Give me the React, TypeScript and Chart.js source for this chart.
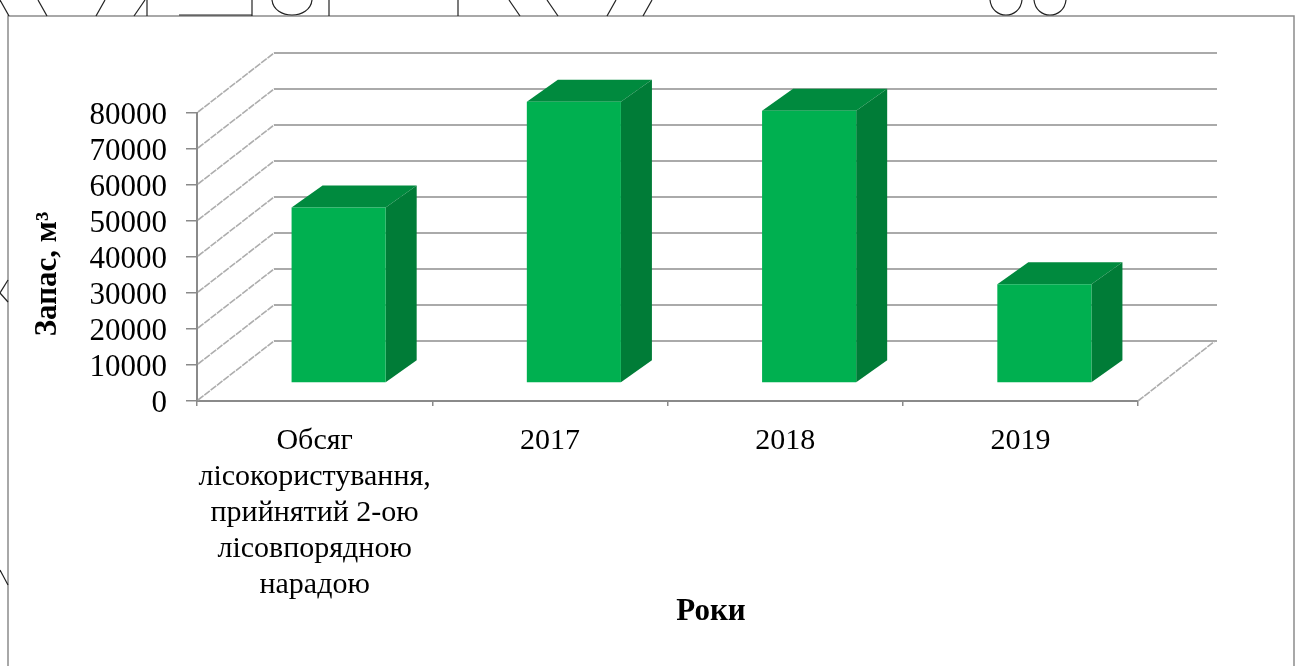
import React, { useEffect, useRef } from "react";
import { Chart, registerables } from "chart.js";

Chart.register(...registerables);

const categories: (string | string[])[] = [
  ["Обсяг", "лісокористування,", "прийнятий 2-ою", "лісовпорядною", "нарадою"],
  "2017",
  "2018",
  "2019",
];
const stockValues = [48750, 78100, 75600, 27400];
const yAxisTitle = "Запас, м³";
const xAxisTitle = "Роки";

const SERIF = '"Liberation Serif", "Times New Roman", serif';
const AXIS_COLOR = "#8a8a8a";
const FRONT = "#00b050";
const TOP = "#008a3e";
const SIDE = "#007c37";

// Perspective settings of the fake 3D look
const WALL_DX = 77;
const WALL_DY = -60;
const BAR_SHIFT_X = 24;
const BAR_SHIFT_Y = -18;
const BAR_DX = 31;
const BAR_DY = -22;

const threeD = {
  id: "threeD",
  beforeDatasetsDraw(chart: any) {
    const { ctx, scales } = chart;
    const { x, y } = scales;
    ctx.save();
    y.ticks.forEach((t: any) => {
      const py = y.getPixelForValue(t.value);
      ctx.strokeStyle = "#adadad";
      ctx.lineWidth = 1.6;
      ctx.setLineDash([7, 1]);
      ctx.beginPath();
      ctx.moveTo(x.left + 1, py - 1);
      ctx.lineTo(x.left + WALL_DX, py + WALL_DY);
      ctx.stroke();
      ctx.setLineDash([]);
      ctx.strokeStyle = "#8e8e8e";
      ctx.lineWidth = 1.6;
      ctx.beginPath();
      ctx.moveTo(x.left + WALL_DX, py + WALL_DY);
      ctx.lineTo(x.right + WALL_DX + 2, py + WALL_DY);
      ctx.stroke();
    });
    const floor = y.getPixelForValue(0);
    ctx.strokeStyle = "#adadad";
    ctx.lineWidth = 1.6;
    ctx.setLineDash([7, 1]);
    ctx.beginPath();
    ctx.moveTo(x.right, floor);
    ctx.lineTo(x.right + WALL_DX, floor + WALL_DY);
    ctx.stroke();
    ctx.restore();
  },
  beforeDatasetDraw(chart: any, args: any) {
    const { ctx } = chart;
    const meta = chart.getDatasetMeta(args.index);
    ctx.save();
    ctx.translate(BAR_SHIFT_X, BAR_SHIFT_Y);
    meta.data.forEach((bar: any) => {
      const l = bar.x - bar.width / 2;
      const r = bar.x + bar.width / 2;
      const t = bar.y;
      const b = bar.base;
      ctx.fillStyle = TOP;
      ctx.beginPath();
      ctx.moveTo(l, t);
      ctx.lineTo(l + BAR_DX, t + BAR_DY);
      ctx.lineTo(r + BAR_DX, t + BAR_DY);
      ctx.lineTo(r, t);
      ctx.closePath();
      ctx.fill();
      ctx.fillStyle = SIDE;
      ctx.beginPath();
      ctx.moveTo(r, t);
      ctx.lineTo(r + BAR_DX, t + BAR_DY);
      ctx.lineTo(r + BAR_DX, b + BAR_DY);
      ctx.lineTo(r, b);
      ctx.closePath();
      ctx.fill();
    });
  },
  afterDatasetDraw(chart: any) {
    chart.ctx.restore();
  },
  afterDraw(chart: any) {
    const { ctx, width } = chart;
    ctx.save();
    // page frame
    ctx.strokeStyle = "#8c8c8c";
    ctx.lineWidth = 1.5;
    ctx.beginPath();
    ctx.moveTo(8, 666);
    ctx.lineTo(8, 16);
    ctx.lineTo(width - 1, 16);
    ctx.lineTo(width - 1, 666);
    ctx.stroke();
    // remnants of the scanned drawing that sits above the frame
    ctx.strokeStyle = "#222";
    ctx.lineWidth = 1.2;
    const strokes = [
      [0, 0, 9, 16], [38, 0, 47, 16], [105, 0, 96, 16], [145, 0, 134, 16], [147, 0, 147, 16],
      [179, 15, 252, 15], [252, 0, 252, 16], [329, 0, 329, 16], [458, 0, 458, 16],
      [509, 0, 520, 16], [547, 0, 558, 16], [616, 0, 607, 16], [652, 0, 643, 16],
      [0, 293, 8, 280], [0, 293, 8, 302], [0, 570, 8, 585],
    ];
    strokes.forEach(([a, b, c, d]) => {
      ctx.beginPath();
      ctx.moveTo(a, b);
      ctx.lineTo(c, d);
      ctx.stroke();
    });
    [[272, 312], [990, 1022], [1034, 1066]].forEach(([a, c]) => {
      ctx.beginPath();
      ctx.moveTo(a, 0);
      ctx.bezierCurveTo(a + 2, 20, c - 2, 20, c, 0);
      ctx.stroke();
    });
    // axis titles
    ctx.fillStyle = "#000";
    ctx.textAlign = "center";
    ctx.textBaseline = "middle";
    ctx.font = `bold 31px ${SERIF}`;
    ctx.fillText(xAxisTitle, 711, 612);
    ctx.translate(48, 274);
    ctx.rotate(-Math.PI / 2);
    ctx.fillText(yAxisTitle, 0, 0);
    ctx.restore();
  },
};

export default function App() {
  const ref = useRef<HTMLCanvasElement>(null);
  useEffect(() => {
    document.body.style.margin = "0";
    const chart = new Chart(ref.current!, {
      type: "bar",
      data: {
        labels: categories as any,
        datasets: [
          {
            label: yAxisTitle,
            data: stockValues,
            backgroundColor: FRONT,
            categoryPercentage: 1,
            barPercentage: 0.4,
          },
        ],
      },
      options: {
        animation: false,
        responsive: false,
        layout: { autoPadding: false, padding: { left: 8, top: 113, right: 157, bottom: 0 } },
        plugins: { legend: { display: false }, tooltip: { enabled: false }, title: { display: false } },
        scales: {
          x: {
            offset: true,
            afterFit: (s: any) => { s.height = 265; },
            grid: { offset: true, drawOnChartArea: false, drawTicks: true, tickLength: 5, color: AXIS_COLOR, lineWidth: 1.5 },
            border: { color: AXIS_COLOR, width: 2 },
            ticks: {
              autoSkip: false,
              maxRotation: 0,
              minRotation: 0,
              padding: 17,
              color: "#000",
              font: { family: SERIF, size: 30, lineHeight: 1.2 },
            },
          },
          y: {
            min: 0,
            max: 80000,
            afterFit: (s: any) => { s.width = 189; },
            grid: { drawOnChartArea: false, drawTicks: true, tickLength: 11, color: AXIS_COLOR, lineWidth: 1.5 },
            border: { color: AXIS_COLOR, width: 2 },
            ticks: {
              stepSize: 10000,
              autoSkip: false,
              padding: 19,
              color: "#000",
              font: { family: SERIF, size: 31, lineHeight: "5px" },
              // the empty first line nudges each label a little below its tick, as in the reference
              callback: (v: any) => ["", String(v)],
            },
          },
        },
      },
      plugins: [threeD],
    } as any);
    return () => chart.destroy();
  }, []);
  return <canvas ref={ref} width={1295} height={666} style={{ display: "block", filter: "blur(0.5px)" }} />;
}
